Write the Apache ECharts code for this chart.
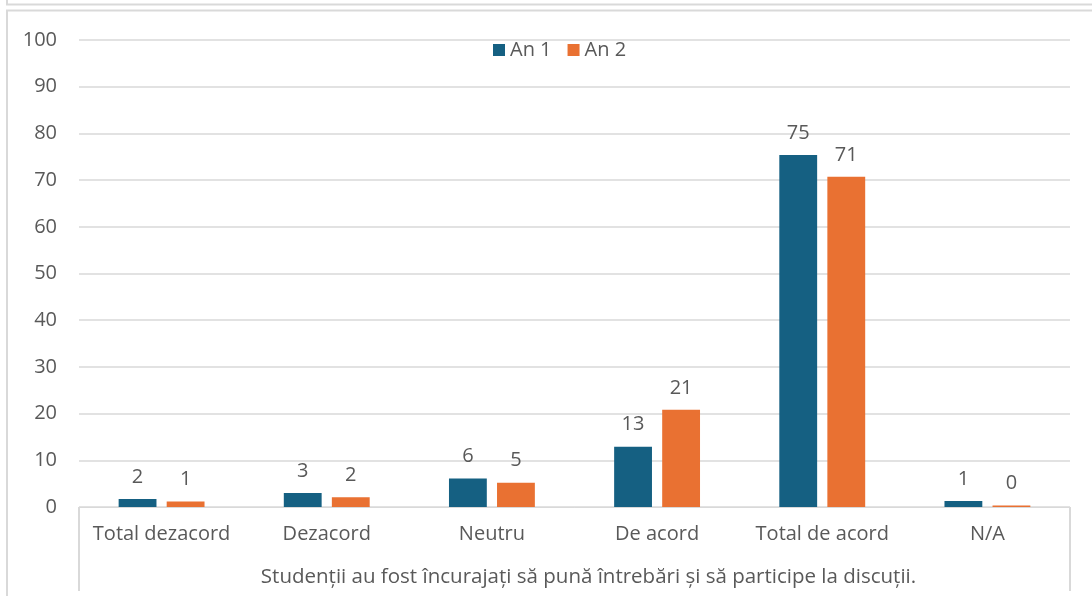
<!DOCTYPE html>
<html>
<head>
<meta charset="utf-8">
<script src="https://cdn.jsdelivr.net/npm/echarts@6/dist/echarts.min.js"></script>
<style>
  html, body { margin: 0; padding: 0; background: #fff; }
  #chart { width: 1092px; height: 596px; }
</style>
</head>
<body>
<div id="chart"></div>
<script>
// date
var categories = ["Total dezacord", "Dezacord", "Neutru", "De acord", "Total de acord", "N/A"];
var an1 = [1.7, 3.0, 6.1, 12.9, 75.4, 1.3];
var an2 = [1.2, 2.1, 5.2, 20.8, 70.7, 0.3];
var groupTitle = "Studenții au fost încurajați să pună întrebări și să participe la discuții.";
var yTicks = [0, 10, 20, 30, 40, 50, 60, 70, 80, 90, 100];

var font = "'Open Sans', 'Noto Sans', sans-serif";
var fs = 20;
var textColor = "#595959";
var lineColor = "#d9d9d9";

var myChart = echarts.init(document.getElementById("chart"));

function barLabel() {
  return {
    show: true,
    position: "top",
    distance: 12,
    color: textColor,
    fontSize: fs,
    fontFamily: font,
    formatter: function (p) { return Math.round(p.value); }
  };
}

myChart.setOption({
  animation: false,
  textStyle: { fontFamily: font },
  graphic: [
    { type: "polyline", shape: { points: [[7, 0], [7, 4.5], [1092, 4.5]] }, style: { stroke: lineColor, lineWidth: 2, fill: null } },
    { type: "polyline", shape: { points: [[7, 596], [7, 10.5], [1092, 10.5]] }, style: { stroke: lineColor, lineWidth: 2, fill: null } }
  ],
  legend: {
    top: 35,
    left: 488,
    itemWidth: 12,
    itemHeight: 12,
    itemGap: 16,
    icon: "rect",
    textStyle: { color: textColor, fontSize: fs, fontFamily: font },
    data: ["An 1", "An 2"]
  },
  grid: { left: 79, right: 22, top: 40, bottom: 89 },
  xAxis: [
    {
      type: "category",
      data: categories,
      axisLine: { lineStyle: { color: lineColor, width: 1 } },
      axisTick: { show: false },
      axisLabel: { interval: 0, hideOverlap: false, color: textColor, fontSize: fs, fontFamily: font, margin: 17 }
    },
    {
      type: "category",
      position: "bottom",
      data: [groupTitle],
      axisLine: { show: false },
      axisTick: { show: true, length: 84, lineStyle: { color: lineColor, width: 2 } },
      axisLabel: { interval: 0, color: textColor, fontSize: 20.5, fontFamily: font, margin: 60, padding: [0, 0, 0, 28] }
    }
  ],
  yAxis: {
    type: "value",
    min: yTicks[0],
    max: yTicks[yTicks.length - 1],
    interval: 10,
    axisLine: { show: false },
    axisTick: { show: false },
    axisLabel: { color: textColor, fontSize: fs, fontFamily: font, margin: 22 },
    splitLine: { lineStyle: { color: lineColor, width: 1.5 } }
  },
  series: [
    {
      name: "An 1",
      type: "bar",
      data: an1,
      barGap: "27%",
      barCategoryGap: "48%",
      itemStyle: { color: "#156082" },
      label: barLabel()
    },
    {
      name: "An 2",
      type: "bar",
      data: an2,
      itemStyle: { color: "#E97132" },
      label: barLabel()
    }
  ]
});
</script>
</body>
</html>
